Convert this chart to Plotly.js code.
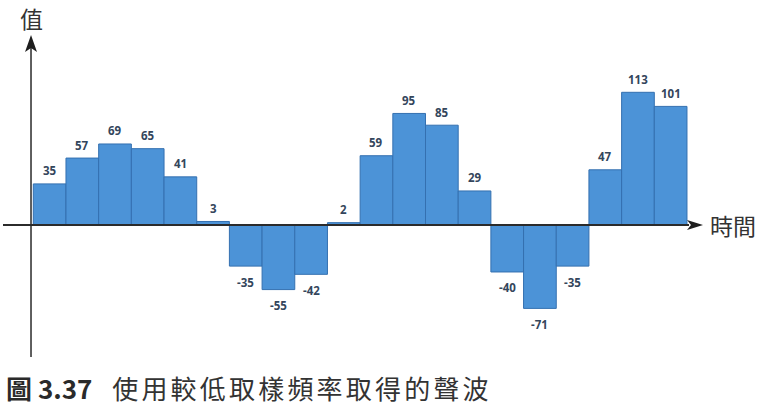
<!DOCTYPE html>
<html>
<head>
<meta charset="utf-8">
<script src="https://cdn.plot.ly/plotly-3.0.1.min.js"></script>
<style>
html,body{margin:0;padding:0;background:#fff;}
.annotation[data-index="23"] text{letter-spacing:3.2px;}
</style>
</head>
<body>
<div id="chart" style="width:765px;height:413px;"></div>
<script>
const samples = [1,2,3,4,5,6,7,8,9,10,11,12,13,14,15,16,17,18,19,20];
const values = [35, 57, 69, 65, 41, 3, -35, -55, -42, 2, 59, 95, 85, 29, -40, -71, -35, 47, 113, 101];
const yLabel = "值";
const xLabel = "時間";
const captionNum = "圖 3.37";
const captionText = "使用較低取樣頻率取得的聲波";

const xs = samples.map((s, i) => i);

const bar = {
  type: 'bar',
  x: xs,
  y: values,
  marker: {color: 'rgb(76,147,215)', line: {color: 'rgb(52,112,176)', width: 1}},
  hoverinfo: 'skip'
};

const labelAnns = values.map((v, i) => ({
  x: xs[i], y: v, xref: 'x', yref: 'y',
  text: String(v), showarrow: false,
  yanchor: 'middle', yshift: v >= 0 ? 13 : -16,
  font: {family: 'Open Sans, sans-serif', size: 11.5, color: '#34465c', weight: 'bold'}
}));

const axisX = -0.57;
const cjk = '"Noto Sans CJK TC", "Noto Sans CJK SC", sans-serif';

const annotations = labelAnns.concat([
  {xref: 'paper', yref: 'paper', x: 0.04, y: 1, yshift: 17, xanchor: 'center', yanchor: 'middle',
   text: yLabel, showarrow: false, font: {family: cjk, size: 23, color: '#333'}},
  {xref: 'paper', yref: 'y', x: 1, y: 0, xshift: 5, xanchor: 'left', yanchor: 'middle',
   text: xLabel, showarrow: false, font: {family: cjk, size: 23, color: '#333'}},
  {xref: 'paper', yref: 'paper', x: 0.001, y: -0.096, xanchor: 'left', yanchor: 'middle',
   text: '<b>' + captionNum + '</b>', showarrow: false,
   font: {family: cjk, size: 26, color: '#2a2a2a'}},
  {xref: 'paper', yref: 'paper', x: 0.4267, y: -0.096, xanchor: 'center', yanchor: 'middle',
   text: captionText, showarrow: false,
   font: {family: cjk, size: 26, color: '#333'}}
]);

const shapes = [
  {type: 'line', xref: 'paper', yref: 'y', x0: 0, x1: 0.98, y0: 0, y1: 0,
   line: {color: '#2b2b2b', width: 2}},
  {type: 'line', xref: 'x', yref: 'paper', x0: axisX, x1: axisX, y0: 0, y1: 0.97,
   line: {color: '#2b2b2b', width: 1.5}},
  {type: 'path', xref: 'paper', yref: 'y', xsizemode: 'pixel', ysizemode: 'pixel',
   xanchor: 1, yanchor: 0, path: 'M0,0 L-16,5 L-12,0 L-16,-5 Z',
   fillcolor: '#1e1e1e', line: {width: 0}},
  {type: 'path', xref: 'x', yref: 'paper', xsizemode: 'pixel', ysizemode: 'pixel',
   xanchor: axisX, yanchor: 1, path: 'M0,0 L-6,-17 L0,-13 L6,-17 Z',
   fillcolor: '#1e1e1e', line: {width: 0}}
];

const layout = {
  width: 765, height: 413,
  margin: {l: 3, r: 62, t: 35, b: 56},
  paper_bgcolor: '#fff', plot_bgcolor: '#fff',
  showlegend: false,
  bargap: 0,
  xaxis: {range: [-1.427, 19.99], visible: false, fixedrange: true},
  yaxis: {range: [-112.4, 161.8], visible: false, fixedrange: true},
  annotations: annotations,
  shapes: shapes
};

Plotly.newPlot('chart', [bar], layout, {displayModeBar: false, staticPlot: true});
</script>
</body>
</html>
